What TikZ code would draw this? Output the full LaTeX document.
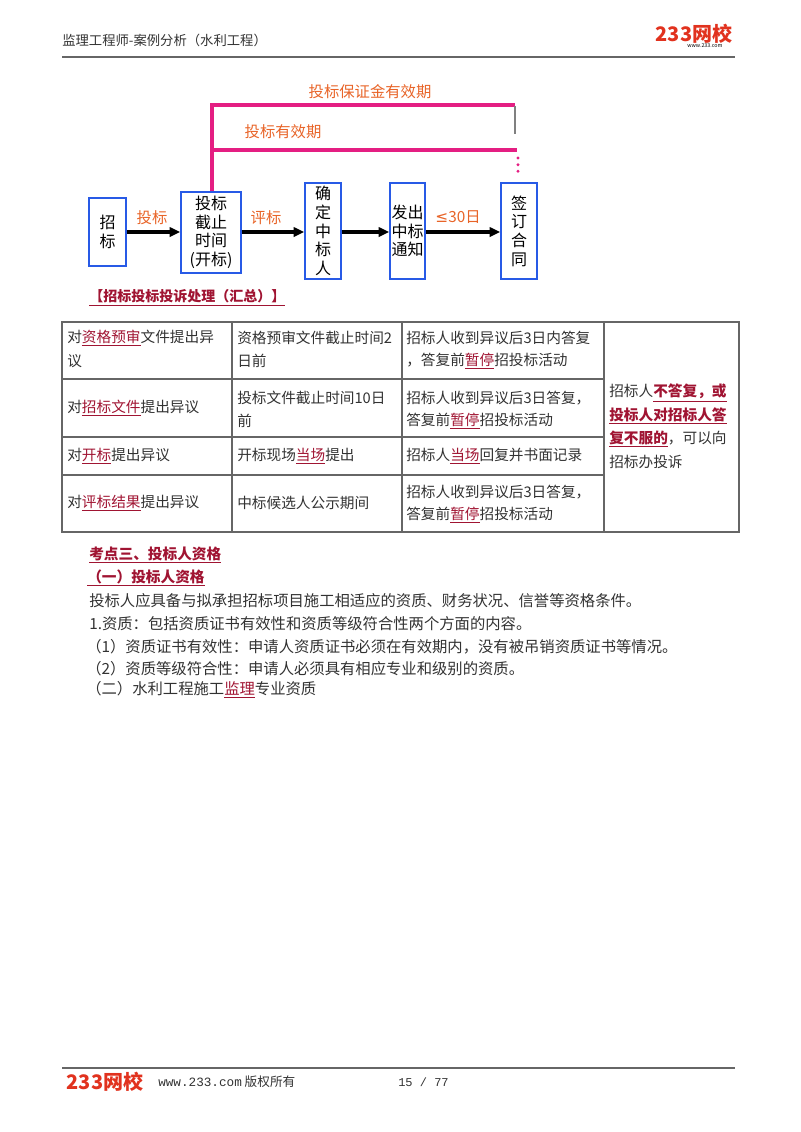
\documentclass[tikz,border=0pt]{standalone}
\usepackage{fontspec}
\setmainfont{Noto Sans CJK SC}
\newfontfamily\monof{Liberation Mono}
\newfontfamily\djv{DejaVu Sans}
\usetikzlibrary{arrows.meta}
\definecolor{orng}{RGB}{232,100,40}
\definecolor{mag}{RGB}{228,30,130}
\definecolor{dred}{RGB}{160,20,50}
\definecolor{bxb}{RGB}{40,90,230}
\definecolor{txt}{RGB}{50,50,50}
\definecolor{logo}{RGB}{225,50,30}
\newcommand{\myul}[1]{{\color{dred}\underline{#1}}}
\tikzset{
 fbox/.style={draw=bxb,line width=1.2pt,fill=white,align=center,font=\fontsize{12}{14}\selectfont,inner sep=0pt},
 flab/.style={text=orng,font=\fontsize{11.5}{13}\selectfont},
 farr/.style={line width=3pt,-{Triangle[length=8pt,width=7pt]}},
 mline/.style={draw=mag,line width=2.6pt},
 tl/.style={anchor=west,inner sep=0pt,text=txt,font=\fontsize{11}{12}\selectfont},
 bt/.style={anchor=west,inner sep=0pt,text=txt,font=\fontsize{11.5}{12}\selectfont},
 grid/.style={draw=black!60,line width=0.9pt}
}
\begin{document}
\begin{tikzpicture}[x=0.75pt,y=-0.75pt]
\useasboundingbox (0,0) rectangle (800,1132);
% header
\node[tl,font=\fontsize{10}{12}\selectfont] (hdr) at (62,40) {监理工程师-案例分析（水利工程）};
\node[inner sep=0pt,text=logo,font=\fontsize{15}{15}\itshape\bfseries\selectfont] (logo1) at (694,34) {233网校};
\node[inner sep=0pt,font=\fontsize{4}{4}\itshape\selectfont] (logo1b) at (705,46) {www.233.com};
\draw[black!60,line width=1pt] (62,57) coordinate (h1) -- (735,57) coordinate (h2);
% flow
\node[fbox,minimum width=27.75pt,minimum height=51pt] (t1) at (107.5,232) {招\\标};
\node[fbox,minimum width=45pt,minimum height=60.75pt] (t2) at (211,232.5) {投标\\截止\\时间\\(开标)};
\node[fbox,minimum width=27pt,minimum height=72pt] (t3) at (323,231) {确\\定\\中\\标\\人};
\node[fbox,minimum width=26.25pt,minimum height=72pt] (t4) at (407.5,231) {发出\\中标\\通知};
\node[fbox,minimum width=27pt,minimum height=72pt] (t5) at (519,231) {签\\订\\合\\同};
\draw[farr] (t1.east |- 0,232) -- (t2.west |- 0,232);
\draw[farr] (t2.east |- 0,232) -- (t3.west |- 0,232);
\draw[farr] (t3.east |- 0,232) -- (t4.west |- 0,232);
\draw[farr] (t4.east |- 0,232) -- (t5.west |- 0,232);
\node[flab] (l1) at (152,218) {投标};
\node[flab] (l2) at (266,218) {评标};
\node[flab] (l3) at (458,217) {{\djv ≤}30日};
\draw[mline] (t2.north -| 212,0) -- (212,105) -- (515,105);
\draw[mline] (212,150) -- (517,150);
\draw[black!50,line width=0.8pt] (515,106) -- (515,134);
\draw[mag,line width=2.4pt,line cap=round,dash pattern=on 0pt off 5pt] (518,158) -- (518,173);
\node[flab] (l4) at (370,92) {投标保证金有效期};
\node[flab] (l5) at (283,132) {投标有效期};
\node[tl,text=dred,font=\fontsize{10.5}{12}\bfseries\selectfont] (sec) at (89,298) {\underline{【招标投标投诉处理（汇总）】}};
% table
\draw[grid] (62,322) rectangle (739,532);
\foreach \yy in {379,437,475} \draw[grid] (62,\yy) -- (604,\yy);
\foreach \xx in {232,402,604} \draw[grid] (\xx,322) -- (\xx,532);
\node[tl] (c11) at (67,338) {对\myul{资格预审}文件提出异};
\node[tl] (c11b) at (67,361) {议};
\node[tl] (c12) at (237,338) {资格预审文件截止时间2};
\node[tl] (c12b) at (237,361) {日前};
\node[tl] (c13) at (406,338) {招标人收到异议后3日内答复};
\node[tl] (c13b) at (406,361) {，答复前\myul{暂停}招投标活动};
\node[tl] (c21) at (67,408) {对\myul{招标文件}提出异议};
\node[tl] (c22) at (237,398) {投标文件截止时间10日};
\node[tl] (c22b) at (237,421) {前};
\node[tl] (c23) at (406,398) {招标人收到异议后3日答复，};
\node[tl] (c23b) at (406,421) {答复前\myul{暂停}招投标活动};
\node[tl] (c31) at (67,456) {对\myul{开标}提出异议};
\node[tl] (c32) at (237,456) {开标现场\myul{当场}提出};
\node[tl] (c33) at (406,456) {招标人\myul{当场}回复并书面记录};
\node[tl] (c41) at (67,503) {对\myul{评标结果}提出异议};
\node[tl] (c42) at (237,503) {中标候选人公示期间};
\node[tl] (c43) at (406,492) {招标人收到异议后3日答复，};
\node[tl] (c43b) at (406,515) {答复前\myul{暂停}招投标活动};
\node[tl] (c5a) at (609,393) {招标人{\bfseries\myul{不答复，或}}};
\node[tl] (c5b) at (609,416) {{\bfseries\myul{投标人对招标人答}}};
\node[tl] (c5c) at (609,439) {{\bfseries\myul{复不服的}}，可以向};
\node[tl] (c5d) at (609,462) {招标办投诉};
% text
\node[bt,font=\fontsize{11}{12}\bfseries\selectfont] (p1) at (89,555) {\myul{考点三、投标人资格}};
\node[bt,font=\fontsize{11}{12}\bfseries\selectfont] (p2) at (87,578) {\myul{（一）投标人资格}};
\node[bt] (p3) at (89,601) {投标人应具备与拟承担招标项目施工相适应的资质、财务状况、信誉等资格条件。};
\node[bt] (p4) at (89,624) {1.资质：包括资质证书有效性和资质等级符合性两个方面的内容。};
\node[bt] (p5) at (86,647) {（1）资质证书有效性：申请人资质证书必须在有效期内，没有被吊销资质证书等情况。};
\node[bt] (p6) at (86,669) {（2）资质等级符合性：申请人必须具有相应专业和级别的资质。};
\node[bt] (p7) at (86,690) {（二）水利工程施工\myul{监理}专业资质};
% footer
\draw[black!60,line width=1pt] (62,1068) coordinate (f1) -- (735,1068) coordinate (f2);
\node[inner sep=0pt,text=logo,font=\fontsize{15}{15}\itshape\bfseries\selectfont] (logo2) at (105,1082) {233网校};
\node[tl,font=\fontsize{9.5}{11}\selectfont] (ft1) at (158,1082) {{\monof www.233.com} 版权所有};
\node[tl,font=\fontsize{9}{11}\monof] (ft2) at (398,1082) {15 / 77};
\end{tikzpicture}
\end{document}
